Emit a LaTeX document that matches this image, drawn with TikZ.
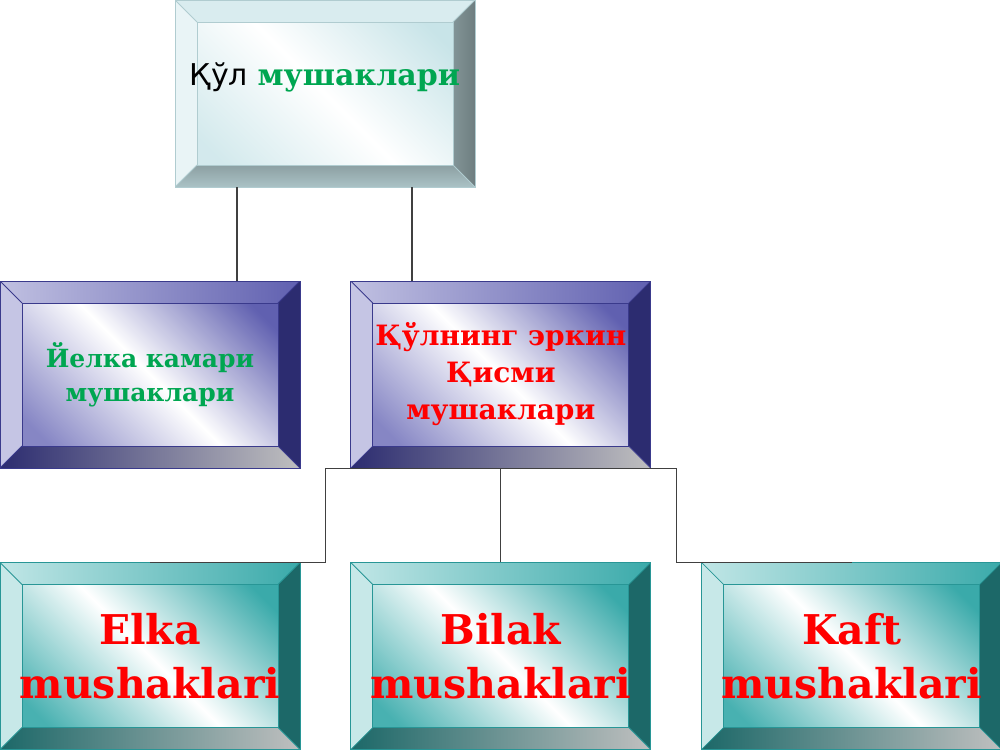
\documentclass[tikz,border=0pt]{standalone}
\usepackage{fontspec}
\setmainfont{DejaVu Serif}
\newfontfamily\plainsans{DejaVu Sans}
\usetikzlibrary{positioning}

\definecolor{kgreen}{RGB}{0,166,81}
\definecolor{kred}{RGB}{255,0,0}
\definecolor{paleA}{RGB}{200,228,232}
\definecolor{paleEdge}{RGB}{176,204,208}
\definecolor{violA}{RGB}{96,96,176}
\definecolor{violB}{RGB}{150,150,205}
\definecolor{violDark}{RGB}{44,44,112}
\definecolor{violEdge}{RGB}{58,58,140}
\definecolor{tealA}{RGB}{58,170,170}
\definecolor{tealB}{RGB}{130,205,205}
\definecolor{tealDark}{RGB}{28,104,104}
\definecolor{tealEdge}{RGB}{40,150,150}

\begin{document}
\begin{tikzpicture}[x=0.5pt,y=-0.5pt,node distance=25pt,
	link/.style={draw=black!75,line width=0.6pt},
	box/.style={minimum width=150pt,minimum height=93.5pt,inner sep=0pt,
		align=center,font=\bfseries},
	bevel/.style n args={5}{path picture={
		\coordinate (nw) at (path picture bounding box.north west);
		\coordinate (ne) at (path picture bounding box.north east);
		\coordinate (sw) at (path picture bounding box.south west);
		\coordinate (se) at (path picture bounding box.south east);
		\path[#1] (nw) -- (ne) -- ([shift={(-11pt,-11pt)}]ne) -- ([shift={(11pt,-11pt)}]nw) -- cycle;
		\path[#2] (nw) -- (sw) -- ([shift={(11pt,11pt)}]sw) -- ([shift={(11pt,-11pt)}]nw) -- cycle;
		\path[#3] (ne) -- (se) -- ([shift={(-11pt,11pt)}]se) -- ([shift={(-11pt,-11pt)}]ne) -- cycle;
		\path[#4] (sw) -- (se) -- ([shift={(-11pt,11pt)}]se) -- ([shift={(11pt,11pt)}]sw) -- cycle;
		\draw[#5,line width=0.5pt] ([shift={(11pt,-11pt)}]nw) rectangle ([shift={(-11pt,11pt)}]se);
		\draw[#5,line width=0.4pt] (nw) -- ([shift={(11pt,-11pt)}]nw) (ne) -- ([shift={(-11pt,-11pt)}]ne)
			(sw) -- ([shift={(11pt,11pt)}]sw) (se) -- ([shift={(-11pt,11pt)}]se);
	}},
	palebox/.style={box,draw=paleEdge,shade,top color=paleA,bottom color=paleA!80,middle color=white,shading angle=-45,
		bevel={fill=paleA!70!white}{fill=paleA!40!white}{left color=black!35!paleA,right color=black!45!paleA}{top color=black!30!paleA,bottom color=black!15!paleA}{paleEdge}},
	violbox/.style={box,draw=violEdge,shade,top color=violA,bottom color=violB!70!violA,middle color=white,shading angle=-45,
		bevel={left color=violB!60!white,right color=violA}{fill=violB!55!white}{fill=violDark}{left color=violDark,right color=black!25}{violEdge}},
	tealbox/.style={box,draw=tealEdge,shade,top color=tealA,bottom color=tealA!80!tealB,middle color=white,shading angle=-45,
		bevel={left color=tealB!50!white,right color=tealA}{fill=tealB!45!white}{fill=tealDark}{left color=tealDark,right color=black!25}{tealEdge}}]

	\useasboundingbox (0,0) rectangle (1000,750);

	% top level
	\node[palebox] (hand) at (325,93.5) {};
	\node[font=\fontsize{15pt}{18pt}\selectfont] (handtext) at (325,77)
		{{\plainsans Қўл} \textbf{\textcolor{kgreen}{мушаклари}}};

	% second level
	\node[violbox,text=kgreen,font=\bfseries\fontsize{12.5pt}{17pt}\selectfont] (shoulder) at (150,374.5)
		{Йелка камари\\мушаклари};
	\node[violbox,text=kred,font=\bfseries\fontsize{14pt}{18.5pt}\selectfont] (arm) [right=of shoulder]
		{Қўлнинг эркин\\Қисми\\мушаклари};

	% third level
	\node[tealbox,text=kred,font=\bfseries\fontsize{20.5pt}{27pt}\selectfont] (elka) at (150,656)
		{Elka\\mushaklari};
	\node[tealbox,text=kred,font=\bfseries\fontsize{20.5pt}{27pt}\selectfont] (bilak) [right=of elka]
		{Bilak\\mushaklari};
	\node[tealbox,text=kred,font=\bfseries\fontsize{20.5pt}{27pt}\selectfont] (kaft) [right=of bilak]
		{Kaft\\mushaklari};

	% connectors
	\draw[link] ([xshift=-44pt]hand.south) -- ([xshift=-44pt]hand.south |- shoulder.north);
	\draw[link] ([xshift=43.5pt]hand.south) -- ([xshift=43.5pt]hand.south |- arm.north);
	\draw[link] (arm.south) -- (bilak.north);
	\draw[link] (arm.south) -| ([xshift=-12.5pt]arm.south west) |- (elka.north);
	\draw[link] (arm.south) -| ([xshift=12.5pt]arm.south east) |- (kaft.north);
\end{tikzpicture}
\end{document}
